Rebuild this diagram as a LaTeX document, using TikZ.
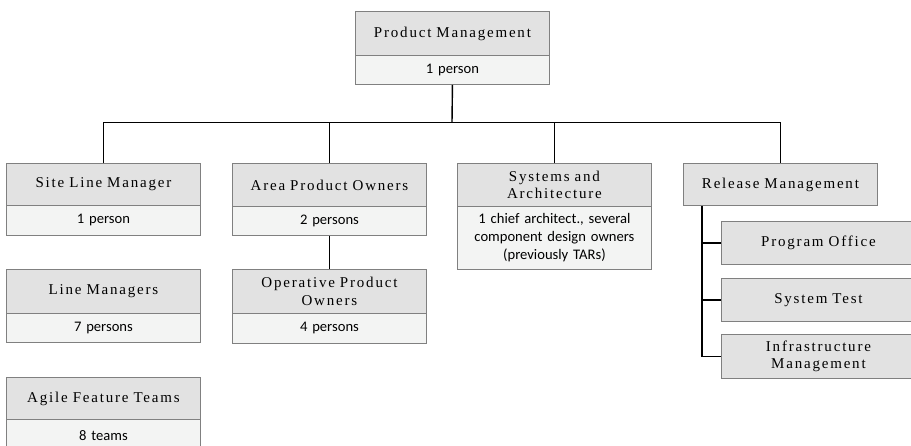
\documentclass[tikz,border=0pt]{standalone}
\usepackage{fontspec}
\setmainfont{Carlito}
\newfontfamily\ttlfont[LetterSpace=12]{Liberation Serif}
\definecolor{ttlfill}{RGB}{226,226,226}
\definecolor{bodyfill}{RGB}{243,244,243}
\definecolor{boxline}{RGB}{128,128,128}
\begin{document}
\begin{tikzpicture}[x=1pt,y=-1pt,
  ttl/.style={draw=boxline, fill=ttlfill, line width=0.9pt, text width=194pt,
    minimum height=#1, inner sep=0pt, align=center, anchor=north west,
    font=\ttlfont\fontsize{15}{17.5}\selectfont},
  ttl/.default=43pt,
  bod/.style={draw=boxline, fill=bodyfill, line width=0.9pt, text width=194pt,
    minimum height=#1, inner sep=0pt, align=center, anchor=north west,
    font=\fontsize{14.6}{18}\selectfont},
  bod/.default=29pt,
  conn/.style={draw=black, line width=1.4pt}]
\clip (0,0) rectangle (911,445);
\fill[white] (0,0) rectangle (911,445);

% nodes
\node[ttl=44pt] (pm) at (355,11) {Product Management};
\node[bod] (pmb) at (355,55) {1 person};

\node[ttl=42pt] (slm) at (6,163) {Site Line Manager};
\node[bod=30pt] (slmb) at (6,205) {1 person};

\node[ttl] (apo) at (232,163) {Area Product Owners};
\node[bod] (apob) at (232,206) {2 persons};

\node[ttl=44pt] (opo) at (232,269) {Operative Product\\Owners};
\node[bod=30pt] (opob) at (232,313) {4 persons};

\node[ttl] (sa) at (457,163) {Systems and\\Architecture};
\node[bod=63pt] (sab) at (457,206) {1 chief architect., several\\component design owners\\(previously TARs)};

\node[ttl=42pt] (rm) at (683,163) {Release Management};
\node[ttl] (po) at (721,221) {Program Office};
\node[ttl] (st) at (721,278) {System Test};
\node[ttl=44pt] (im) at (721,334) {Infrastructure\\Management};

\node[ttl=44pt] (lm) at (6,269) {Line Managers};
\node[bod] (lmb) at (6,313) {7 persons};

\node[ttl=42pt] (aft) at (6,377) {Agile Feature Teams};
\node[bod=32pt] (aftb) at (6,419) {8 teams};

% connectors
\coordinate (bus) at (452,122.5);
\draw[conn] (pmb.south) -- (bus);
\draw[conn] (slm.north) |- (bus) -| (rm.north);
\draw[conn] (apo.north) -- (apo.north |- bus);
\draw[conn] (sa.north) -- (sa.north |- bus);
\draw[conn] (apob.south) -- (opo.north);
\coordinate (stem) at ([xshift=19pt]rm.south west);
\draw[conn] (stem) |- (im.west);
\draw[conn] (po.west) -- (po.west -| stem);
\draw[conn] (st.west) -- (st.west -| stem);
\end{tikzpicture}
\end{document}
